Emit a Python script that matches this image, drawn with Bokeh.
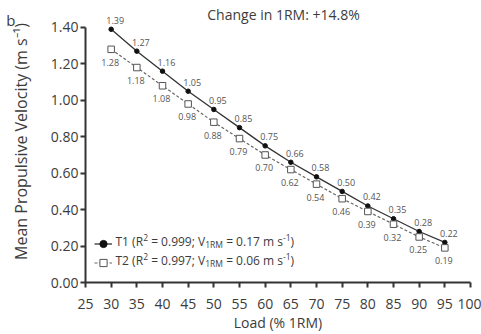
from bokeh.plotting import figure
from bokeh.models import (Range1d, Label, Legend, LegendItem, FixedTicker,
                          NumeralTickFormatter, LinearAxis)
from bokeh.core.properties import value
from bokeh.embed import file_html
from bokeh.resources import INLINE

# ---- data ----
load = [30, 35, 40, 45, 50, 55, 60, 65, 70, 75, 80, 85, 90, 95]
t1 = [1.39, 1.27, 1.16, 1.05, 0.95, 0.85, 0.75, 0.66, 0.58, 0.50, 0.42, 0.35, 0.28, 0.22]
t2 = [1.28, 1.18, 1.08, 0.98, 0.88, 0.79, 0.70, 0.62, 0.54, 0.46, 0.39, 0.32, 0.25, 0.19]
t1_label = "T1"
t2_label = "T2"
t1_r2 = "0.999"
t2_r2 = "0.997"
t1_v1rm = "0.17"
t2_v1rm = "0.06"
x_ticks = [25, 30, 35, 40, 45, 50, 55, 60, 65, 70, 75, 80, 85, 90, 95, 100]
y_ticks = [0.0, 0.2, 0.4, 0.6, 0.8, 1.0, 1.2, 1.4]
title_text = "Change in 1RM: +14.8%"
panel_letter = "b"
x_title = "Load (% 1RM)"
y_title = "Mean Propulsive Velocity (m s\u207b\u00b9)"

FONT = "Open Sans"
TXT = "#3c3c3c"
Y_TOP = 1.548      # room above the 1.40 axis end for the headline
LETTER_Y = 1.44    # vertical place of the panel letter

p = figure(width=481, height=334, x_range=Range1d(25, 100), y_range=Range1d(0, Y_TOP),
           output_backend="svg", toolbar_location=None,
           min_border_left=85, min_border_right=11, min_border_top=0, min_border_bottom=52)
p.outline_line_color = None
p.grid.visible = False
p.background_fill_color = "white"

for ax in (p.xaxis[0], p.yaxis[0]):
    ax.axis_line_color = "#333333"
    ax.axis_line_width = 2
    ax.major_tick_line_color = "#333333"
    ax.major_tick_line_width = 2
    ax.major_tick_out = 5
    ax.major_tick_in = 0
    ax.minor_tick_line_color = None
    ax.major_label_text_font = FONT
    ax.major_label_text_font_size = "14px"
    ax.major_label_text_color = TXT
    ax.axis_label_text_font = FONT
    ax.axis_label_text_font_style = "normal"
    ax.axis_label_text_color = TXT

p.xaxis.ticker = FixedTicker(ticks=x_ticks)
p.yaxis.ticker = FixedTicker(ticks=y_ticks)
p.yaxis.bounds = (0, 1.4)
p.yaxis.formatter = NumeralTickFormatter(format="0.00")
p.xaxis.major_label_standoff = 11
p.yaxis.major_label_standoff = 2
p.xaxis.axis_label = x_title
p.yaxis.axis_label = y_title
p.xaxis.axis_label_text_font_size = "14px"
p.yaxis.axis_label_text_font_size = "16px"
p.xaxis.axis_label_standoff = 1
p.yaxis.axis_label_standoff = 16

# panel letter as an extra, invisible left axis carrying a single label
letter_axis = LinearAxis(ticker=FixedTicker(ticks=[LETTER_Y]),
                         major_label_overrides={LETTER_Y: panel_letter},
                         axis_line_color=None, major_tick_line_color=None,
                         minor_tick_line_color=None, major_tick_out=0, major_tick_in=0,
                         major_label_standoff=-9, major_label_text_font=FONT,
                         major_label_text_font_size="15px", major_label_text_color=TXT)
p.add_layout(letter_axis, "left")

# ---- series ----
l1 = p.line(load, t1, line_color="#333333", line_width=1.3)
s1 = p.scatter(load, t1, marker="circle", size=4.5, fill_color="#111111", line_color="#111111")
l2 = p.line(load, t2, line_color="#666666", line_width=1.2, line_dash="3 2")
s2 = p.scatter(load, t2, marker="square", size=6.5, fill_color="white", line_color="#555555", line_width=1)

p.text(load, t1, text=["%.2f" % v for v in t1], x_offset=4, y_offset=-9,
       text_font=value(FONT), text_font_size="9px", text_color="#555555",
       text_align="center", text_baseline="middle")
p.text(load, t2, text=["%.2f" % v for v in t2], x_offset=-1, y_offset=13,
       text_font=value(FONT), text_font_size="9px", text_color="#555555",
       text_align="center", text_baseline="middle")

# ---- legend glyphs ----
legend = Legend(items=[LegendItem(label=" ", renderers=[l1, s1]),
                       LegendItem(label=" ", renderers=[l2, s2])],
                location=(9, 10), glyph_width=18, glyph_height=19, label_height=19,
                label_width=0, spacing=0, padding=0, margin=0, label_standoff=0,
                label_text_font_size="1px", border_line_color=None,
                background_fill_alpha=0)
p.add_layout(legend, "center")

# ---- legend texts (pieces with super/subscripts) ----
NB = "\u00a0"
W = {NB: 0.26, '.': 0.266, '=': 0.572, '(': 0.296, ')': 0.296, ';': 0.266,
     'T': 0.556, 'R': 0.621, 'V': 0.591, 'M': 0.907, 'm': 0.925, 's': 0.479, '-': 0.322}
def width(s, fs):
    return sum(W.get(c, 0.572) for c in s) * fs

FS = 12.0
SFS = 8.5
def legend_row(name, r2, v, y_px, x_px):
    pieces = [(name + NB + "(R", "n"), ("2", "sup"), (NB + "=" + NB + r2 + ";" + NB + "V", "n"),
              ("1RM", "sub"), (NB + "=" + NB + v + NB + "m" + NB + "s", "n"), ("-1", "sup"),
              (")", "n")]
    x = x_px
    for txt, kind in pieces:
        fs = FS if kind == "n" else SFS
        dy = {"n": 0, "sup": 4, "sub": -3}[kind]
        p.add_layout(Label(x=25, y=0, x_offset=x, y_offset=y_px + dy, text=txt,
                           text_font=FONT, text_font_size="%gpx" % fs, text_color=TXT,
                           text_align="left", text_baseline="middle"))
        x += width(txt, fs)

legend_row(t1_label, t1_r2, t1_v1rm, 41, 30)
legend_row(t2_label, t2_r2, t2_v1rm, 22, 30)

# ---- headline ----
p.add_layout(Label(x=25, y=1.4, x_offset=198, y_offset=13, text=title_text,
                   text_font=FONT, text_font_size="14px", text_color=TXT,
                   text_align="center", text_baseline="middle"))

open("out.html", "w").write(file_html(p, INLINE))
